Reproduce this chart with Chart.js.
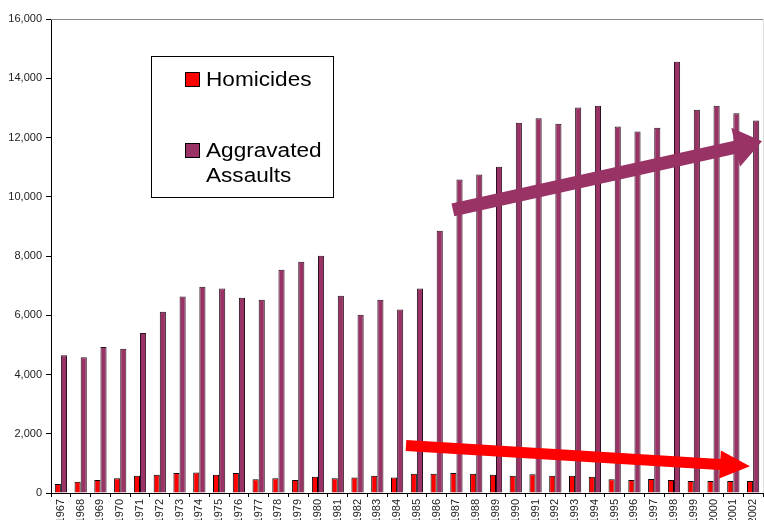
<!DOCTYPE html>
<html>
<head>
<meta charset="utf-8">
<script src="https://cdn.jsdelivr.net/npm/chart.js@4.4.0/dist/chart.umd.min.js"></script>
<style>
    html, body { margin: 0; padding: 0; background: #fff; overflow: hidden; }
    #wrap { position: relative; width: 764px; height: 520px; }
</style>
</head>
<body>
<div id="wrap"><canvas id="chart" width="764" height="520"></canvas></div>
<script>
// Data
const years = ['1967', '1968', '1969', '1970', '1971', '1972', '1973', '1974', '1975', '1976',
    '1977', '1978', '1979', '1980', '1981', '1982', '1983', '1984', '1985', '1986',
    '1987', '1988', '1989', '1990', '1991', '1992', '1993', '1994', '1995', '1996',
    '1997', '1998', '1999', '2000', '2001', '2002'];

const homicides = [300, 380, 440, 495, 585, 620, 675, 695, 620, 675,
    465, 495, 440, 550, 495, 525, 585, 525, 650, 650,
    675, 650, 620, 585, 630, 585, 585, 550, 460, 440,
    470, 440, 405, 405, 405, 405];

const assaults = [4650, 4580, 4930, 4870, 5400, 6120, 6630, 6960, 6900, 6590,
    6520, 7540, 7810, 8010, 6660, 6020, 6520, 6190, 6900, 8850,
    10580, 10750, 11010, 12500, 12650, 12460, 13010, 13070, 12370, 12200,
    12330, 14560, 12940, 13070, 12820, 12570];

const yMin = 0;
const yMax = 16000;
const yStep = 2000;

// Trend arrows, in chart units: [category index, value]
const assaultTrend = { from: [19.82, 9560], to: [35.45, 11870] };
const homicideTrend = { from: [17.45, 1600], to: [34.84, 900] };

const RED = '#FF0000';
const PURPLE = '#993366';
const FONT = "'Liberation Sans', Arial, sans-serif";

function drawArrow(ctx, x0, y0, x1, y1, shaft, headLen, headHalf, color) {
    const ang = Math.atan2(y1 - y0, x1 - x0);
    const len = Math.hypot(x1 - x0, y1 - y0);
    ctx.save();
    ctx.translate(x0, y0);
    ctx.rotate(ang);
    ctx.beginPath();
    ctx.moveTo(0, -shaft / 2);
    ctx.lineTo(len - headLen, -shaft / 2);
    ctx.lineTo(len - headLen, -headHalf);
    ctx.lineTo(len, 0);
    ctx.lineTo(len - headLen, headHalf);
    ctx.lineTo(len - headLen, shaft / 2);
    ctx.lineTo(0, shaft / 2);
    ctx.closePath();
    ctx.fillStyle = color;
    ctx.fill();
    ctx.restore();
}

// Plot frame: grey top and right edge
const framePlugin = {
    id: 'frame',
    beforeDatasetsDraw(chart) {
        const { ctx, chartArea } = chart;
        ctx.save();
        ctx.strokeStyle = '#888';
        ctx.lineWidth = 1;
        ctx.beginPath();
        ctx.moveTo(chartArea.left, chartArea.top + 0.5);
        ctx.lineTo(chartArea.right, chartArea.top + 0.5);
        ctx.stroke();
        ctx.strokeStyle = '#ddd';
        ctx.beginPath();
        ctx.moveTo(chartArea.right + 0.5, chartArea.top);
        ctx.lineTo(chartArea.right + 0.5, chartArea.bottom);
        ctx.stroke();
        ctx.restore();
    }
};

// Trend arrows drawn over the bars
const arrowPlugin = {
    id: 'trendArrows',
    afterDatasetsDraw(chart) {
        const { ctx, scales } = chart;
        const px = p => [scales.x.getPixelForValue(p[0]), scales.y.getPixelForValue(p[1])];
        const a0 = px(assaultTrend.from), a1 = px(assaultTrend.to);
        drawArrow(ctx, a0[0], a0[1], a1[0], a1[1], 13, 27, 20, PURPLE);
        const h0 = px(homicideTrend.from), h1 = px(homicideTrend.to);
        drawArrow(ctx, h0[0], h0[1], h1[0], h1[1], 11, 30, 14, RED);
    }
};

// Boxed legend inside the plot (text slightly stretched, like the original)
const legendPlugin = {
    id: 'boxLegend',
    afterDraw(chart) {
        const ctx = chart.ctx;
        ctx.save();
        ctx.fillStyle = '#fff';
        ctx.fillRect(151, 56, 182, 141);
        ctx.strokeStyle = '#000';
        ctx.lineWidth = 1;
        ctx.strokeRect(151.5, 56.5, 182, 141);

        const items = [
            { color: RED, lines: ['Homicides'], y: 79 },
            { color: PURPLE, lines: ['Aggravated', 'Assaults'], y: 150 }
        ];
        items.forEach(it => {
            ctx.fillStyle = it.color;
            ctx.fillRect(185, it.y - 7, 15, 15);
            ctx.strokeStyle = '#000';
            ctx.strokeRect(185.5, it.y - 6.5, 14, 14);
            ctx.fillStyle = '#000';
            ctx.font = '20px ' + FONT;
            ctx.textBaseline = 'middle';
            ctx.textAlign = 'left';
            it.lines.forEach((t, i) => {
                ctx.save();
                ctx.translate(206, it.y + 1 + i * 25);
                ctx.scale(1.13, 1);
                ctx.fillText(t, 0, 0);
                ctx.restore();
            });
        });
        ctx.restore();
    }
};

new Chart(document.getElementById('chart'), {
    type: 'bar',
    data: {
        labels: years,
        datasets: [
            {
                label: 'Homicides',
                data: homicides,
                backgroundColor: RED,
                borderColor: '#000',
                borderWidth: 1
            },
            {
                label: 'Aggravated Assaults',
                data: assaults,
                backgroundColor: PURPLE,
                borderColor: '#2a1020',
                borderWidth: 1
            }
        ]
    },
    options: {
        responsive: false,
        animation: false,
        devicePixelRatio: 1,
        categoryPercentage: 0.62,
        barPercentage: 1.0,
        layout: { padding: { top: 19, right: 1, left: 0, bottom: 0 } },
        plugins: {
            legend: { display: false },
            tooltip: { enabled: false }
        },
        scales: {
            x: {
                grid: {
                    drawOnChartArea: false,
                    offset: true,
                    tickLength: 4,
                    color: '#000'
                },
                border: { color: '#000', width: 1 },
                ticks: {
                    autoSkip: false,
                    minRotation: 90,
                    maxRotation: 90,
                    padding: 2,
                    color: '#222',
                    font: { family: FONT, size: 11 }
                },
                afterFit(scale) {
                    scale.height = 27;
                    scale.paddingLeft = 0;
                    scale.paddingRight = 0;
                }
            },
            y: {
                min: yMin,
                max: yMax,
                grid: {
                    drawOnChartArea: false,
                    tickLength: 5,
                    color: '#000'
                },
                border: { color: '#000', width: 1 },
                ticks: {
                    stepSize: yStep,
                    padding: 4,
                    color: '#222',
                    font: { family: FONT, size: 11 },
                    callback: v => v.toLocaleString('en-US')
                },
                afterFit(scale) {
                    scale.width = 51;
                }
            }
        }
    },
    plugins: [framePlugin, arrowPlugin, legendPlugin]
});
</script>
</body>
</html>
